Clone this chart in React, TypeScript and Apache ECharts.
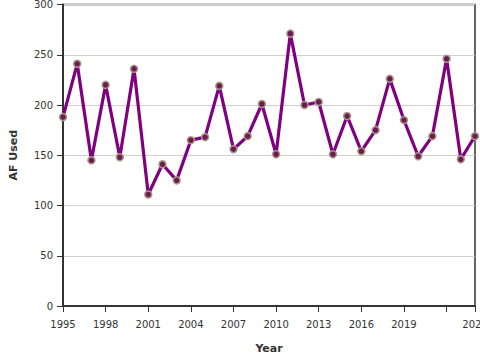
import React, { useEffect, useRef } from "react";
import * as echarts from "echarts";

const years = [1995, 1996, 1997, 1998, 1999, 2000, 2001, 2002, 2003, 2004, 2005, 2006, 2007, 2008, 2009, 2010, 2011, 2012, 2013, 2014, 2015, 2016, 2017, 2018, 2019, 2020, 2021, 2022, 2023, 2024];
const afUsed = [188, 241, 145, 220, 148, 236, 111, 141, 125, 165, 168, 219, 156, 169, 201, 151, 271, 200, 203, 151, 189, 154, 175, 226, 185, 149, 169, 246, 146, 169];
const hiddenXLabels = [2022];

export default function App() {
  const ref = useRef<HTMLDivElement>(null);
  useEffect(() => {
    if (!ref.current) return;
    const chart = echarts.init(ref.current, null, { renderer: "svg" });
    chart.setOption({
      animation: false,
      textStyle: { fontFamily: "DejaVu Sans" },
      grid: {
        left: 63, right: 5, top: 4.5, bottom: 54,
        containLabel: false, outerBoundsMode: "none",
        show: true, borderColor: "#333", borderWidth: 1.5, backgroundColor: "transparent",
      },
      xAxis: {
        type: "value",
        min: 1995,
        max: 2024,
        interval: 3,
        name: "Year",
        nameLocation: "middle",
        nameGap: 37,
        nameTextStyle: { fontWeight: "bold", fontSize: 11, color: "#333" },
        axisLine: { show: true, onZero: false, lineStyle: { color: "#333", width: 2 } },
        axisTick: { show: true, length: 6, lineStyle: { color: "#333" } },
        axisLabel: {
          fontSize: 10,
          color: "#333",
          margin: 13,
          formatter: (v: number) => (hiddenXLabels.includes(v) ? "" : String(v)),
        },
        splitLine: { show: false },
      },
      yAxis: {
        type: "value",
        min: 0,
        max: 300,
        interval: 50,
        name: "AF Used",
        nameLocation: "middle",
        nameGap: 44,
        nameRotate: 90,
        nameTextStyle: { fontWeight: "bold", fontSize: 11, color: "#333" },
        axisLine: { show: true, lineStyle: { color: "#333", width: 2 } },
        axisTick: { show: true, length: 6, lineStyle: { color: "#333" } },
        axisLabel: { fontSize: 10, color: "#333", margin: 10 },
        splitLine: { show: true, lineStyle: { color: "#d0d0d0", width: 1 } },
      },
      series: [
        {
          type: "line",
          data: years.map((y, i) => [y, afUsed[i]]),
          lineStyle: { color: "#800080", width: 3.2 },
          symbol: "circle",
          symbolSize: 7,
          itemStyle: { color: "#6e1a55", borderColor: "#a89a82", borderWidth: 1.5 },
          z: 3,
        },
      ],
    });
    return () => chart.dispose();
  }, []);
  return <div ref={ref} style={{ width: 480, height: 360, position: "absolute", left: 0, top: 0 }} />;
}
